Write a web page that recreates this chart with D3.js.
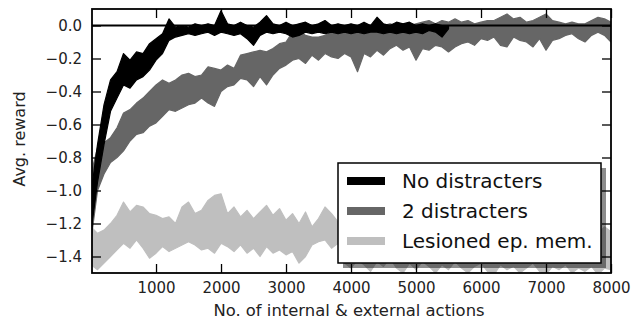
<!DOCTYPE html>
<html>
<head>
<meta charset="utf-8">
<script src="https://cdn.jsdelivr.net/npm/d3@7"></script>
<style>
  body { margin: 0; background: #fff; }
  text { font-family: "DejaVu Sans", sans-serif; }
</style>
</head>
<body>
<script>
// reward curves, sampled every 100 actions (upper / lower edge of the noisy band)
var noDistHi = [-1.02, -0.72, -0.48, -0.33, -0.28, -0.17, -0.21, -0.16, -0.17, -0.11,
  -0.08, -0.05, 0.04, -0.01, 0.00, -0.01, 0.01, 0.00, 0.01, 0.00,
  0.09, 0.01, 0.00, 0.02, 0.00, -0.01, 0.02, 0.06, 0.01, 0.00,
  0.02, 0.00, 0.01, 0.02, 0.00, 0.01, 0.03, 0.00, 0.01, 0.00,
  0.01, 0.00, 0.02, 0.00, 0.05, 0.01, 0.00, 0.02, 0.01, 0.02,
  0.00, 0.01, 0.00, 0.01, 0.00, 0.00];
var noDistLo = [-1.25, -0.95, -0.72, -0.52, -0.44, -0.36, -0.38, -0.33, -0.31, -0.27,
  -0.21, -0.17, -0.09, -0.07, -0.06, -0.05, -0.06, -0.05, -0.04, -0.06,
  -0.04, -0.05, -0.06, -0.05, -0.08, -0.12, -0.06, -0.04, -0.05, -0.04,
  -0.05, -0.07, -0.06, -0.04, -0.05, -0.04, -0.05, -0.04, -0.05, -0.04,
  -0.05, -0.04, -0.05, -0.04, -0.04, -0.05, -0.04, -0.05, -0.04, -0.05,
  -0.04, -0.05, -0.03, -0.04, -0.07, -0.02];

var twoDistHi = [-0.90, -0.74, -0.71, -0.68, -0.62, -0.53, -0.51, -0.47, -0.44, -0.40,
  -0.36, -0.33, -0.35, -0.33, -0.30, -0.29, -0.31, -0.30, -0.25, -0.26,
  -0.27, -0.24, -0.26, -0.18, -0.17, -0.16, -0.15, -0.16, -0.14, -0.11,
  -0.10, -0.04, -0.03, -0.06, -0.07, -0.07, -0.06, -0.04, -0.05, -0.03,
  -0.03, -0.04, -0.02, -0.03, 0.01, 0.00, 0.01, 0.00, 0.01, 0.00,
  0.01, 0.02, 0.03, 0.01, 0.03, 0.02, 0.04, 0.02, 0.03, 0.01,
  0.02, 0.03, 0.03, 0.05, 0.07, 0.04, 0.05, 0.02, 0.03, 0.05,
  0.07, 0.03, 0.02, 0.01, 0.02, 0.01, 0.01, 0.03, 0.05, 0.04, 0.02];
var twoDistLo = [-1.30, -1.00, -0.90, -0.83, -0.80, -0.76, -0.70, -0.66, -0.65, -0.61,
  -0.59, -0.55, -0.51, -0.52, -0.50, -0.48, -0.47, -0.44, -0.47, -0.49,
  -0.40, -0.37, -0.36, -0.32, -0.33, -0.37, -0.31, -0.36, -0.30, -0.26,
  -0.24, -0.21, -0.20, -0.23, -0.18, -0.21, -0.17, -0.19, -0.20, -0.17,
  -0.19, -0.28, -0.17, -0.19, -0.15, -0.18, -0.14, -0.12, -0.15, -0.13,
  -0.21, -0.14, -0.15, -0.12, -0.13, -0.16, -0.13, -0.11, -0.10, -0.12,
  -0.08, -0.09, -0.07, -0.12, -0.13, -0.07, -0.09, -0.10, -0.13, -0.08,
  -0.15, -0.09, -0.08, -0.06, -0.05, -0.08, -0.10, -0.06, -0.04, -0.06, -0.10];

var lesionHi = [-1.22, -1.26, -1.24, -1.20, -1.15, -1.07, -1.13, -1.09, -1.10, -1.14,
  -1.15, -1.17, -1.16, -1.20, -1.10, -1.07, -1.14, -1.12, -1.06, -1.03,
  -1.02, -1.14, -1.10, -1.16, -1.12, -1.17, -1.13, -1.09, -1.15, -1.11,
  -1.18, -1.14, -1.20, -1.13, -1.22, -1.17, -1.10, -1.14, -1.19, -1.22,
  -1.26, -1.20, -1.24, -1.28, -1.21, -1.25, -1.19, -1.23, -1.27, -1.22,
  -1.26, -1.20, -1.24, -1.29, -1.22, -1.25, -1.21, -1.26, -1.23, -1.27,
  -1.22, -1.25, -1.28, -1.23, -1.26, -1.21, -1.24, -1.27, -1.22, -1.25,
  -1.29, -1.24, -1.27, -1.22, -1.26, -1.23, -1.28, -1.24, -1.26, -1.22, -1.25];
var lesionLo = [-1.45, -1.48, -1.44, -1.40, -1.36, -1.32, -1.35, -1.30, -1.35, -1.41,
  -1.38, -1.34, -1.37, -1.35, -1.33, -1.31, -1.33, -1.36, -1.35, -1.38,
  -1.32, -1.34, -1.37, -1.33, -1.38, -1.35, -1.40, -1.34, -1.38, -1.36,
  -1.39, -1.37, -1.44, -1.40, -1.33, -1.31, -1.30, -1.35, -1.32, -1.44,
  -1.47, -1.42, -1.45, -1.49, -1.43, -1.46, -1.41, -1.47, -1.50, -1.44,
  -1.48, -1.43, -1.46, -1.50, -1.45, -1.48, -1.43, -1.47, -1.50, -1.46,
  -1.44, -1.49, -1.51, -1.45, -1.48, -1.46, -1.50, -1.47, -1.44, -1.49,
  -1.51, -1.46, -1.48, -1.45, -1.50, -1.47, -1.49, -1.46, -1.51, -1.47, -1.48];

var legendLabels = ["No distracters", "2 distracters", "Lesioned ep. mem."];
var seriesColors = ["#000000", "#666666", "#bfbfbf"];
var xTicks = [1000, 2000, 3000, 4000, 5000, 6000, 7000, 8000];
var yTicks = [0.0, -0.2, -0.4, -0.6, -0.8, -1.0, -1.2, -1.4];

var w = 638;
var h = 320;
var pLeft = 92, pRight = 611, pTop = 9, pBottom = 273;

var svg = d3.select("body").append("svg").attr("width", w).attr("height", h);

var xScale = d3.scaleLinear().domain([15, 8000]).range([pLeft, pRight]);
var yScale = d3.scaleLinear().domain([-1.5, 0.1]).range([pBottom, pTop]);

svg.append("clipPath").attr("id", "plotclip")
  .append("rect")
  .attr("x", pLeft).attr("y", pTop)
  .attr("width", pRight - pLeft).attr("height", pBottom - pTop);

function band(hi, lo) {
  return hi.map(function (d, i) {
    return { x: i * 100, hi: d, lo: lo[i] };
  });
}

var area = d3.area()
  .x(function (d) { return xScale(d.x); })
  .y0(function (d) { return yScale(d.lo); })
  .y1(function (d) { return yScale(d.hi); });

var plot = svg.append("g").attr("clip-path", "url(#plotclip)");

// lesioned first, black on top (as in the reference)
var bands = [
  band(lesionHi, lesionLo),
  band(twoDistHi, twoDistLo),
  band(noDistHi, noDistLo)
];
var bandColors = [seriesColors[2], seriesColors[1], seriesColors[0]];

plot.selectAll("path.band")
  .data(bands)
  .enter()
  .append("path")
  .attr("class", "band")
  .attr("d", area)
  .attr("fill", function (d, i) { return bandColors[i]; })
  .attr("stroke", function (d, i) { return bandColors[i]; })
  .attr("stroke-width", 1.2)
  .attr("stroke-linejoin", "round");

// zero line
plot.append("line")
  .attr("x1", pLeft).attr("x2", pRight)
  .attr("y1", yScale(0)).attr("y2", yScale(0))
  .attr("stroke", "#000")
  .attr("stroke-width", 2);

// axes, ticks pointing inwards on all four sides
var tickLen = 9;
var xAxis = d3.axisBottom(xScale).tickValues(xTicks).tickSizeInner(-tickLen).tickSizeOuter(0).tickPadding(9)
  .tickFormat(d3.format("d"));
var yAxis = d3.axisLeft(yScale).tickValues(yTicks).tickSizeInner(-tickLen).tickSizeOuter(0).tickPadding(10)
  .tickFormat(function (d) { return d3.format(".1f")(d).replace("-", "\u2212"); });
var xTop = d3.axisTop(xScale).tickValues(xTicks).tickSizeInner(-tickLen).tickSizeOuter(0).tickFormat("");
var yRight = d3.axisRight(yScale).tickValues(yTicks).tickSizeInner(-tickLen).tickSizeOuter(0).tickFormat("");

var axes = [
  svg.append("g").attr("transform", "translate(0," + pBottom + ")").call(xAxis),
  svg.append("g").attr("transform", "translate(" + pLeft + ",0)").call(yAxis),
  svg.append("g").attr("transform", "translate(0," + pTop + ")").call(xTop),
  svg.append("g").attr("transform", "translate(" + pRight + ",0)").call(yRight)
];
axes.forEach(function (g) {
  g.select(".domain").remove();
  g.selectAll(".tick line").attr("stroke", "#000").attr("stroke-width", 1.3);
  g.selectAll(".tick text")
    .attr("fill", "#222")
    .style("font-family", "'DejaVu Sans', sans-serif")
    .style("font-size", "15px");
});

svg.append("rect")
  .attr("x", pLeft).attr("y", pTop)
  .attr("width", pRight - pLeft).attr("height", pBottom - pTop)
  .attr("fill", "none")
  .attr("stroke", "#000")
  .attr("stroke-width", 1.8);

svg.append("text")
  .attr("x", 349)
  .attr("y", 316)
  .attr("text-anchor", "middle")
  .attr("fill", "#222")
  .style("font-size", "16.4px")
  .text("No. of internal & external actions");

svg.append("text")
  .attr("transform", "translate(19,139) rotate(-90)")
  .attr("text-anchor", "middle")
  .attr("dominant-baseline", "central")
  .attr("fill", "#222")
  .style("font-size", "16px")
  .text("Avg. reward");

// legend with drop shadow
var lg = { x: 338, y: 163, w: 263, h: 100 };
svg.append("rect")
  .attr("x", lg.x + 5).attr("y", lg.y + 5)
  .attr("width", lg.w).attr("height", lg.h)
  .attr("fill", "#000")
  .attr("fill-opacity", 0.45);
svg.append("rect")
  .attr("x", lg.x).attr("y", lg.y)
  .attr("width", lg.w).attr("height", lg.h)
  .attr("fill", "#fff")
  .attr("stroke", "#000")
  .attr("stroke-width", 1.5);

var legendY = d3.scalePoint().domain(legendLabels).range([181, 241]);

var items = svg.selectAll("g.legend-item")
  .data(legendLabels)
  .enter()
  .append("g")
  .attr("class", "legend-item")
  .attr("transform", function (d) { return "translate(0," + legendY(d) + ")"; });

items.append("line")
  .attr("x1", 347).attr("x2", 385)
  .attr("stroke", function (d, i) { return seriesColors[i]; })
  .attr("stroke-width", 8);

items.append("text")
  .attr("x", 402)
  .attr("dominant-baseline", "central")
  .attr("fill", "#111")
  .style("font-size", "20px")
  .text(function (d) { return d; });
</script>
</body>
</html>
